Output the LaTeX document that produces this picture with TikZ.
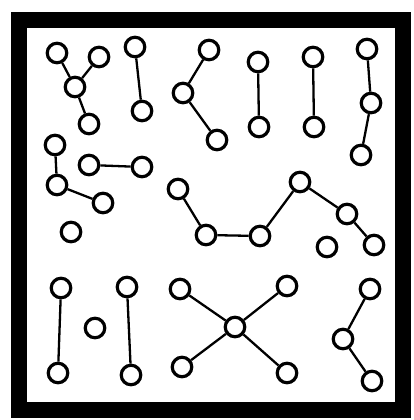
\documentclass[tikz,border=0pt]{standalone}
\usepackage{tikz}
\tikzset{
  atom/.style={circle, draw=black, line width=3.2pt, fill=white, minimum size=19.5pt, inner sep=0pt},
  bond/.style={line width=2.3pt, black},
  frame/.style={draw=black, line width=16pt},
}

\begin{document}
\begin{tikzpicture}[x=1pt, y=-1pt]
\useasboundingbox (0,0) rectangle (414,420);
\draw[frame] (18.5,20) rectangle (402.5,410);

% top row
\node[atom] (a1) at (57,53) {}; \node[atom] (a2) at (99,57) {};
\node[atom] (a3) at (75,87) {}; \node[atom] (a4) at (89,124) {};
\node[atom] (b1) at (135,47) {}; \node[atom] (b2) at (142,111) {};
\node[atom] (c1) at (209,50) {}; \node[atom] (c2) at (183,93) {}; \node[atom] (c3) at (217,140) {};
\node[atom] (d1) at (258,62) {}; \node[atom] (d2) at (259,127) {};
\node[atom] (e1) at (313,57) {}; \node[atom] (e2) at (314,127) {};
\node[atom] (f1) at (367,49) {}; \node[atom] (f2) at (371,103) {}; \node[atom] (f3) at (361,155) {};
\draw[bond] (a1)--(a3); \draw[bond] (a2)--(a3); \draw[bond] (a3)--(a4);
\draw[bond] (b1)--(b2);
\draw[bond] (c1)--(c2); \draw[bond] (c2)--(c3);
\draw[bond] (d1)--(d2); \draw[bond] (e1)--(e2);
\draw[bond] (f1)--(f2); \draw[bond] (f2)--(f3);

% middle row
\node[atom] (g1) at (55,145) {}; \node[atom] (g2) at (57,185) {}; \node[atom] (g3) at (103,203) {};
\node[atom] (g4) at (71,232) {};
\node[atom] (h1) at (89,165) {}; \node[atom] (h2) at (142,167) {};
\node[atom] (i1) at (178,189) {}; \node[atom] (i2) at (206,235) {}; \node[atom] (i3) at (260,236) {};
\node[atom] (i4) at (300,182) {}; \node[atom] (i5) at (347,214) {}; \node[atom] (i6) at (374,245) {};
\node[atom] (i7) at (327,247) {};
\draw[bond] (g1)--(g2); \draw[bond] (g2)--(g3);
\draw[bond] (h1)--(h2);
\draw[bond] (i1)--(i2); \draw[bond] (i2)--(i3); \draw[bond] (i3)--(i4);
\draw[bond] (i4)--(i5); \draw[bond] (i5)--(i6);

% bottom row
\node[atom] (j1) at (61,288) {}; \node[atom] (j2) at (58,373) {};
\node[atom] (k1) at (95,328) {};
\node[atom] (l1) at (127,287) {}; \node[atom] (l2) at (131,375) {};
\node[atom] (m0) at (235,327) {};
\node[atom] (m1) at (180,289) {}; \node[atom] (m2) at (287,286) {};
\node[atom] (m3) at (182,367) {}; \node[atom] (m4) at (287,373) {};
\node[atom] (n1) at (370,289) {}; \node[atom] (n2) at (343,339) {}; \node[atom] (n3) at (372,381) {};
\draw[bond] (j1)--(j2); \draw[bond] (l1)--(l2);
\foreach \m in {m1,m2,m3,m4} \draw[bond] (m0)--(\m);
\draw[bond] (n1)--(n2); \draw[bond] (n2)--(n3);
\end{tikzpicture}
\end{document}
